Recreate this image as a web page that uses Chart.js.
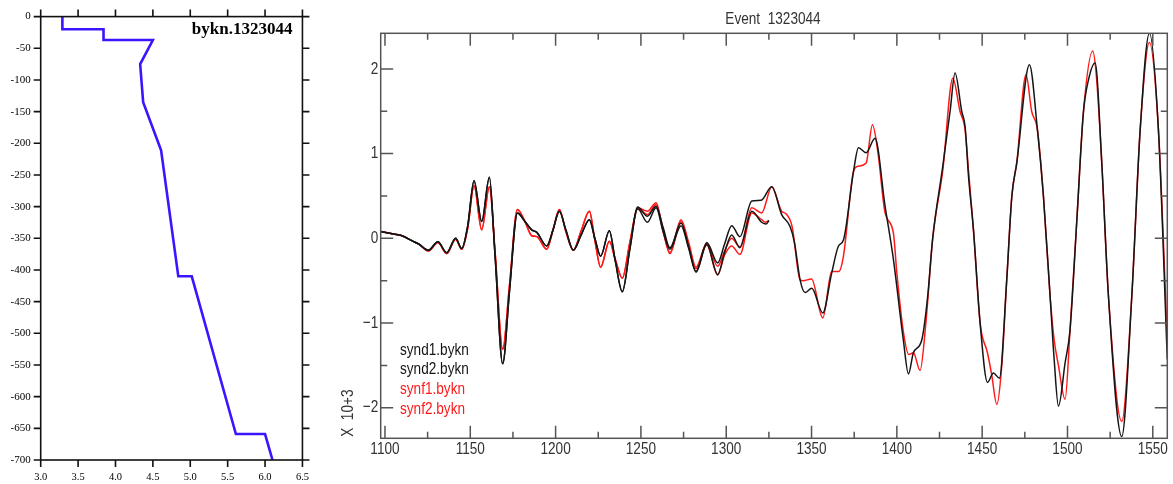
<!DOCTYPE html>
<html>
<head>
<meta charset="utf-8">
<script src="https://cdn.jsdelivr.net/npm/chart.js@4/dist/chart.umd.min.js"></script>
<style>
  body { margin: 0; background: #fff; }
  #profile { position: absolute; left: 0; top: 0; }
  #traces { position: absolute; left: 330px; top: 0; }
</style>
</head>
<body>
<canvas id="profile" width="320" height="484"></canvas>
<canvas id="traces" width="843" height="484"></canvas>
<script>
// velocity profile (left panel)
const profileName = "bykn.1323044";
const velocityKms = [3.29, 3.29, 3.84, 3.84, 4.50, 4.33, 4.37, 4.61, 4.84, 5.02, 5.61, 6.00, 6.10];
const depthKm = [0, -20, -20, -37, -37, -75, -135, -211, -410, -410, -659, -659, -700];

// seismograms (right panel), amplitude x 10^3
const eventTitle = "Event  1323044";
const ampAxisLabel = "X  10+3";
const synd1Time = [1097.5,1105,1110,1116,1120,1125.4,1131,1136.2,1141.4,1145,1148.5,1152.2,1156.7,1161.2,1164.5,1169,1173,1177.6,1182,1186,1189,1194.8,1198.5,1202.2,1206,1210.4,1215,1219.8,1223,1226.4,1231.5,1235,1239.1,1243.5,1248.1,1253.8,1258.9,1263,1267,1273.5,1278,1282.3,1288.6,1295,1299,1303.2,1308,1315,1320.5,1326.7,1332.5,1337.4,1340,1343.3,1346.2,1350.1,1356.6,1361.8,1365.8,1368.7,1374.6,1377.5,1382,1387.2,1393.1,1398,1403.8,1406.8,1409.7,1414.6,1418,1421,1426.9,1431.2,1434.1,1438,1440,1442,1444.9,1448.8,1453.1,1456.6,1460.1,1464.4,1467.4,1470.3,1477.7,1482.4,1485.9,1489.8,1492.2,1494.7,1498.6,1501.5,1505.5,1509.3,1512.3,1516.2,1520.1,1524,1531.8,1537.7,1542.6,1548,1553.3,1558.5];
const synd1Amp = [0.08,0.05,0.03,-0.03,-0.07,-0.14,-0.04,-0.17,0.0,-0.12,0.15,0.68,0.2,0.72,-0.2,-1.48,-0.62,0.3,0.2,0.1,0.07,-0.09,0.1,0.32,0.1,-0.14,0.04,0.22,0.0,-0.21,0.09,-0.27,-0.63,-0.13,0.37,0.26,0.38,0.13,-0.11,0.18,-0.1,-0.39,-0.05,-0.29,-0.07,0.15,0.02,0.44,0.45,0.61,0.28,0.14,-0.05,-0.49,-0.64,-0.59,-0.88,-0.41,-0.09,-0.02,0.79,1.07,1.01,1.18,0.38,-0.25,-1.2,-1.6,-1.35,-1.2,-0.7,0.0,0.85,1.5,1.95,1.5,1.32,0.73,0.1,-1.0,-1.7,-1.59,-1.65,-0.49,0.5,0.89,2.05,1.28,0.5,-0.68,-1.43,-1.98,-1.47,-1.08,0.22,1.48,1.87,2.07,0.89,-0.68,-2.34,-0.68,1.28,2.42,1.28,-1.43];

const synd2Time = [1097.5,1105,1110,1116,1120,1125.4,1131,1136.2,1141.4,1145,1148.5,1152.2,1156.7,1161.2,1164.5,1169,1173,1177.6,1182,1186,1189,1194.8,1198.5,1202.2,1206,1210.4,1215,1219.8,1223,1226.4,1231.5,1235,1239.1,1243.5,1248.1,1253.8,1258.9,1263,1267,1273.5,1278,1282.3,1288.6,1295,1299,1303.2,1308,1315,1320.8,1323.5,1325];
const synd2Amp = [0.08,0.05,0.03,-0.03,-0.07,-0.14,-0.04,-0.17,0.0,-0.12,0.15,0.68,0.2,0.72,-0.2,-1.48,-0.62,0.3,0.2,0.1,0.07,-0.09,0.1,0.32,0.1,-0.14,0.04,0.22,0.0,-0.21,0.09,-0.27,-0.63,-0.13,0.35,0.19,0.36,0.08,-0.13,0.15,-0.12,-0.4,-0.07,-0.43,-0.17,0.04,-0.11,0.32,0.19,0.17,0.21];

const synf1Time = [1097.5,1105,1110,1116,1120,1125.4,1131,1136.2,1141.4,1145,1148.5,1152.2,1156.7,1161.2,1164.5,1169,1173,1177.6,1182,1186,1189,1194.8,1198.5,1202.2,1206,1210.4,1215,1219.8,1223,1226.4,1231.5,1235,1239.1,1243.5,1248.1,1253.8,1258.9,1263,1267,1273.5,1278,1282.3,1288.6,1295,1299,1303.2,1308,1315,1320.8,1326.7,1332.5,1335,1338.6,1343.3,1345,1350,1356.6,1361.8,1366,1368.7,1374.6,1377,1382,1385.7,1389,1393.1,1398,1400,1403.8,1407,1409.7,1413.6,1417,1421,1426.9,1432.8,1437,1440,1442,1444.9,1448.8,1453.1,1455.5,1458.6,1461.5,1464.4,1467.4,1470.3,1475.7,1479,1482.4,1485.9,1489.8,1492.2,1494.7,1498.6,1501.5,1505.5,1509.3,1514.8,1517,1520.1,1524,1531.8,1537.7,1542.6,1548,1553.3,1558.5];
const synf1Amp = [0.08,0.05,0.03,-0.03,-0.07,-0.15,-0.05,-0.18,-0.01,-0.13,0.12,0.62,0.1,0.61,-0.15,-1.31,-0.55,0.34,0.2,0.03,0.02,-0.13,0.1,0.34,0.08,-0.14,0.09,0.32,-0.02,-0.34,-0.035,-0.25,-0.47,-0.05,0.36,0.32,0.42,0.1,-0.17,0.22,-0.05,-0.34,-0.06,-0.33,-0.15,0.0,-0.1,0.36,0.3,0.61,0.32,0.29,0.14,-0.49,-0.5,-0.48,-0.94,-0.39,-0.39,-0.21,0.79,0.85,0.89,1.34,1.0,0.3,0.06,-0.41,-1.1,-1.37,-1.35,-1.56,-1.0,0.0,0.8,1.89,1.5,1.28,0.8,0.1,-1.0,-1.35,-1.6,-1.96,-1.5,-0.49,0.5,0.9,1.93,1.5,1.28,0.5,-0.68,-1.2,-1.5,-1.9,-1.08,0.22,1.48,2.21,1.9,0.89,-0.68,-2.16,-0.68,1.28,2.31,1.28,-1.2];

const synf2Time = [1097.5,1105,1110,1116,1120,1125.4,1131,1136.2,1141.4,1145,1148.5,1152.2,1156.7,1161.2,1164.5,1169,1173,1177.6,1182,1186,1189,1194.8,1198.5,1202.2,1206,1210.4,1215,1219.8,1223,1226.4,1231.5,1235,1239.1,1243.5,1248.1,1253.8,1258.9,1263,1267,1273.5,1278,1282.3,1288.6,1295,1299,1303.2,1308,1315,1320.8,1323,1325];
const synf2Amp = [0.08,0.05,0.03,-0.03,-0.07,-0.15,-0.05,-0.18,-0.01,-0.13,0.12,0.62,0.1,0.61,-0.15,-1.31,-0.55,0.34,0.2,0.03,0.02,-0.13,0.1,0.34,0.08,-0.14,0.09,0.32,-0.02,-0.34,-0.035,-0.25,-0.47,-0.05,0.35,0.28,0.4,0.08,-0.18,0.2,-0.08,-0.36,-0.08,-0.43,-0.2,-0.09,-0.19,0.3,0.22,0.19,0.21];

const traceNames = ["synd1.bykn", "synd2.bykn", "synf1.bykn", "synf2.bykn"];
const traceColors = ["#151515", "#151515", "#ff1a1a", "#ff1a1a"];

function nearMultiple(v, step) {
    return Math.abs(v / step - Math.round(v / step)) < 1e-6;
}

// frame round the plot area with tick marks on all four sides
const frameTicks = {
    id: 'frameTicks',
    afterDraw(chart, args, opts) {
        const {ctx, chartArea: a, scales} = chart;
        const s = opts.inward ? 1 : -1;
        ctx.save();
        ctx.strokeStyle = opts.color;
        ctx.lineWidth = opts.width;
        ctx.strokeRect(a.left, a.top, a.right - a.left, a.bottom - a.top);
        ctx.beginPath();
        scales.x.ticks.forEach(t => {
            const px = scales.x.getPixelForValue(t.value);
            const len = nearMultiple(t.value, opts.majorX) ? opts.major : opts.minor;
            ctx.moveTo(px, a.bottom); ctx.lineTo(px, a.bottom - s * len);
            ctx.moveTo(px, a.top); ctx.lineTo(px, a.top + s * len);
        });
        scales.y.ticks.forEach(t => {
            const py = scales.y.getPixelForValue(t.value);
            const len = nearMultiple(t.value, opts.majorY) ? opts.major : opts.minor;
            ctx.moveTo(a.left, py); ctx.lineTo(a.left + s * len, py);
            ctx.moveTo(a.right, py); ctx.lineTo(a.right - s * len, py);
        });
        ctx.stroke();
        ctx.restore();
    }
};

// the seismogram panel uses a tall narrow lettering; no narrow font is installed,
// so the text is squeezed horizontally
function narrowText(ctx, text, x, y, align, angle) {
    ctx.save();
    ctx.translate(x, y);
    if (angle) ctx.rotate(angle);
    ctx.scale(0.8, 1);
    ctx.textAlign = align;
    ctx.fillText(text, 0, 0);
    ctx.restore();
}

const narrowLabels = {
    id: 'narrowLabels',
    afterDraw(chart, args, opts) {
        if (!opts.show) return;
        const {ctx, chartArea: a, scales} = chart;
        ctx.save();
        ctx.font = "17px 'Liberation Sans', Arial, sans-serif";
        ctx.textBaseline = 'middle';
        ctx.fillStyle = opts.color;
        scales.x.ticks.forEach(t => {
            if (!nearMultiple(t.value, opts.majorX)) return;
            narrowText(ctx, String(t.value), scales.x.getPixelForValue(t.value), a.bottom + 11.5, 'center');
        });
        scales.y.ticks.forEach(t => {
            if (!nearMultiple(t.value, opts.majorY)) return;
            const txt = String(Math.round(t.value)).replace('-', '\u2212');
            narrowText(ctx, txt, a.left - 2.5, scales.y.getPixelForValue(t.value), 'right');
        });
        narrowText(ctx, opts.title, (a.left + a.right) / 2 - 1, 19.5, 'center');
        narrowText(ctx, opts.yTitle, 18.3, a.bottom - 1.5, 'left', -Math.PI / 2);
        chart.data.datasets.forEach((ds, i) => {
            ctx.fillStyle = ds.borderColor;
            narrowText(ctx, ds.label, a.left + 19.3, 350 + i * 19.8, 'left');
        });
        ctx.restore();
    }
};

const profileLabel = {
    id: 'profileLabel',
    afterDraw(chart, args, opts) {
        if (!opts.text) return;
        const {ctx, chartArea: a} = chart;
        ctx.save();
        ctx.font = "bold 17px 'Liberation Serif', serif";
        ctx.fillStyle = '#000';
        ctx.textAlign = 'right';
        ctx.textBaseline = 'middle';
        ctx.fillText(opts.text, a.right - 10, a.top + 13);
        ctx.restore();
    }
};

Chart.register(frameTicks, narrowLabels, profileLabel);

new Chart(document.getElementById('profile'), {
    type: 'line',
    data: {
        datasets: [{
            data: velocityKms.map((v, i) => ({x: v, y: depthKm[i]})),
            borderColor: 'rgb(60, 20, 255)',
            borderWidth: 2.6,
            pointRadius: 0,
            tension: 0,
            fill: false
        }]
    },
    options: {
        responsive: false,
        animation: false,
        layout: {padding: {top: 12.7, right: 9.3, left: 0, bottom: 0}},
        plugins: {
            legend: {display: false},
            tooltip: {enabled: false},
            frameTicks: {inward: false, color: '#111', width: 1.6, major: 7, minor: 7, majorX: 0.5, majorY: 50},
            profileLabel: {text: profileName}
        },
        scales: {
            x: {
                type: 'linear', min: 3.0, max: 6.5,
                afterFit: s => { s.height = 24; },
                grid: {display: false, drawTicks: false},
                border: {display: false},
                ticks: {
                    stepSize: 0.5, autoSkip: false, maxRotation: 0, padding: 11,
                    color: '#000', font: {family: "'Liberation Serif', serif", size: 10.5},
                    callback: v => v.toFixed(1)
                }
            },
            y: {
                type: 'linear', min: -700, max: 0,
                afterFit: s => { s.width = 40.7; },
                grid: {display: false, drawTicks: false},
                border: {display: false},
                ticks: {
                    stepSize: 50, autoSkip: false, padding: 10,
                    color: '#000', font: {family: "'Liberation Serif', serif", size: 11}
                }
            }
        }
    }
});

const traceTimes = [synd1Time, synd2Time, synf1Time, synf2Time];
const traceAmps = [synd1Amp, synd2Amp, synf1Amp, synf2Amp];

new Chart(document.getElementById('traces'), {
    type: 'line',
    data: {
        datasets: traceNames.map((name, k) => ({
            label: name,
            data: traceTimes[k].map((t, i) => ({x: t, y: traceAmps[k][i]})),
            borderColor: traceColors[k],
            borderWidth: 1.5,
            pointRadius: 0,
            cubicInterpolationMode: 'monotone',
            fill: false
        }))
    },
    options: {
        responsive: false,
        animation: false,
        layout: {padding: {top: 33.3, right: 5.7, left: 0, bottom: 0}},
        plugins: {
            legend: {display: false},
            tooltip: {enabled: false},
            frameTicks: {inward: true, color: '#555', width: 1.5, major: 12.5, minor: 6.5, majorX: 50, majorY: 1},
            narrowLabels: {show: true, color: '#333', majorX: 50, majorY: 1, title: eventTitle, yTitle: ampAxisLabel}
        },
        scales: {
            x: {
                type: 'linear', min: 1097.5, max: 1558.5,
                afterFit: s => { s.height = 45.7; },
                grid: {display: false, drawTicks: false},
                border: {display: false},
                ticks: {display: false, stepSize: 25, includeBounds: false, autoSkip: false}
            },
            y: {
                type: 'linear', min: -2.36, max: 2.42,
                afterFit: s => { s.width = 50.7; },
                grid: {display: false, drawTicks: false},
                border: {display: false},
                ticks: {display: false, stepSize: 0.5, includeBounds: false, autoSkip: false}
            }
        }
    }
});
</script>
</body>
</html>
